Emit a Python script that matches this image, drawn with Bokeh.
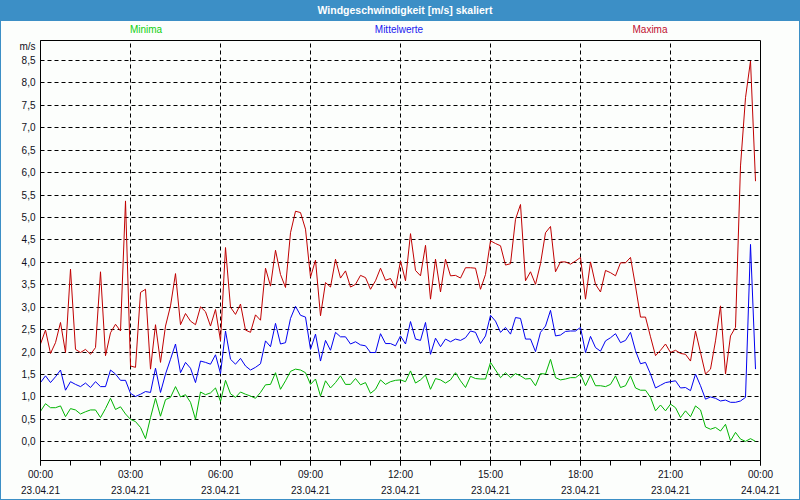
from bokeh.plotting import figure
from bokeh.models import Range1d, FixedTicker, CustomJSTickFormatter, Div
from bokeh.layouts import column
from bokeh.embed import file_html
from bokeh.resources import INLINE

# ---- data (10-minute values, 23.04.21 00:00 .. 23:50) ----
maxima = [
    2.18, 2.49, 1.97, 2.21, 2.66, 1.99, 3.85, 2.06, 1.99, 2.06,
    1.95, 2.10, 3.79, 1.92, 2.43, 2.62, 2.47, 5.37, 1.69, 1.66,
    3.33, 3.40, 1.62, 2.61, 1.77, 2.58, 3.03, 3.75, 2.61, 2.86,
    2.69, 2.61, 3.01, 2.90, 2.58, 2.95, 2.25, 4.33, 3.00, 2.84,
    3.07, 2.49, 2.44, 2.83, 2.71, 3.87, 3.47, 4.27, 3.73, 3.44,
    4.66, 5.14, 5.11, 4.74, 3.67, 4.05, 2.81, 3.55, 3.45, 4.07,
    3.65, 3.81, 3.45, 3.51, 3.71, 3.66, 3.40, 3.59, 3.87, 3.60,
    3.64, 3.42, 4.03, 3.59, 4.64, 3.82, 3.70, 4.38, 3.18, 4.07,
    3.34, 4.07, 3.70, 3.71, 3.65, 3.88, 3.88, 3.87, 3.40, 3.73,
    4.48, 4.42, 4.37, 3.94, 3.97, 4.96, 5.29, 3.59, 3.79, 3.51,
    3.97, 4.66, 4.80, 3.79, 4.01, 4.01, 3.96, 4.03, 4.11, 3.18,
    4.01, 3.51, 3.34, 3.82, 3.77, 3.70, 3.99, 3.99, 4.11, 3.47,
    2.78, 2.78, 2.34, 1.92, 2.04, 2.18, 1.99, 2.04, 1.97, 1.95,
    1.80, 2.47, 1.99, 1.51, 1.62, 2.25, 3.03, 1.51, 2.36, 2.55,
    6.15, 7.67, 8.49, 5.81,
]
mittelwerte = [
    1.32, 1.47, 1.32, 1.45, 1.60, 1.15, 1.34, 1.28, 1.23, 1.31,
    1.21, 1.34, 1.23, 1.23, 1.60, 1.51, 1.37, 1.37, 1.08, 1.01,
    1.06, 1.12, 1.10, 1.64, 1.10, 1.51, 1.84, 2.18, 1.54, 1.77,
    1.64, 1.32, 1.80, 1.77, 1.73, 1.94, 1.52, 2.47, 1.84, 1.73,
    1.86, 1.69, 1.60, 1.66, 1.74, 2.25, 2.12, 2.64, 2.18, 2.21,
    2.75, 3.02, 2.82, 2.78, 2.06, 2.40, 1.80, 2.26, 2.04, 2.44,
    2.34, 2.34, 2.18, 2.23, 2.16, 2.14, 1.99, 1.99, 2.41, 2.19,
    2.19, 2.14, 2.36, 2.18, 2.68, 2.29, 2.26, 2.66, 1.95, 2.31,
    2.12, 2.29, 2.23, 2.29, 2.26, 2.32, 2.47, 2.44, 2.19, 2.36,
    2.82, 2.69, 2.44, 2.55, 2.40, 2.77, 2.75, 2.29, 2.29, 2.01,
    2.44, 2.58, 2.93, 2.36, 2.38, 2.46, 2.47, 2.47, 2.55, 1.99,
    2.35, 2.10, 2.02, 2.25, 2.32, 2.41, 2.21, 2.26, 2.44, 2.03,
    1.74, 1.77, 1.51, 1.20, 1.26, 1.32, 1.34, 1.36, 1.20, 1.21,
    1.14, 1.51, 1.25, 0.95, 1.00, 0.97, 0.91, 0.93, 0.88, 0.88,
    0.91, 0.99, 4.40, 1.62,
]
minima = [
    0.68, 0.85, 0.76, 0.76, 0.80, 0.56, 0.74, 0.71, 0.62, 0.67,
    0.71, 0.71, 0.54, 0.74, 0.97, 0.72, 0.78, 0.62, 0.50, 0.45,
    0.32, 0.07, 0.54, 0.97, 0.57, 0.94, 0.99, 1.23, 1.00, 1.05,
    0.88, 0.50, 1.11, 1.05, 1.09, 1.20, 0.90, 1.37, 1.07, 0.99,
    1.11, 1.06, 1.02, 0.97, 1.10, 1.27, 1.28, 1.54, 1.17, 1.36,
    1.57, 1.62, 1.60, 1.54, 1.28, 1.40, 1.02, 1.36, 1.20, 1.32,
    1.47, 1.28, 1.28, 1.41, 1.27, 1.32, 1.08, 1.17, 1.38, 1.28,
    1.34, 1.37, 1.38, 1.34, 1.58, 1.31, 1.38, 1.49, 1.17, 1.41,
    1.38, 1.31, 1.38, 1.54, 1.36, 1.21, 1.46, 1.41, 1.40, 1.40,
    1.77, 1.60, 1.43, 1.54, 1.43, 1.52, 1.47, 1.40, 1.41, 1.25,
    1.52, 1.51, 1.84, 1.43, 1.38, 1.40, 1.43, 1.43, 1.51, 1.25,
    1.49, 1.25, 1.25, 1.23, 1.28, 1.47, 1.21, 1.25, 1.47, 1.20,
    1.15, 1.15, 0.99, 0.69, 0.82, 0.69, 0.84, 0.76, 0.54, 0.69,
    0.56, 0.80, 0.71, 0.33, 0.28, 0.32, 0.24, 0.39, 0.02, 0.21,
    0.06, 0.01, 0.07, 0.01,
]
interval_minutes = 10
hours = [i * interval_minutes / 60 for i in range(len(maxima))]

series_names = ["Minima", "Mittelwerte", "Maxima"]
series_colors = ["#00b400", "#0000f0", "#c00000"]
label_colors = ["#10d010", "#2020f0", "#c01030"]

x_ticks = [0, 3, 6, 9, 12, 15, 18, 21, 24]
x_tick_labels = ["00:00\n23.04.21", "03:00\n23.04.21", "06:00\n23.04.21",
                 "09:00\n23.04.21", "12:00\n23.04.21", "15:00\n23.04.21",
                 "18:00\n23.04.21", "21:00\n23.04.21", "00:00\n24.04.21"]
x_minor_ticks = list(range(0, 25))
y_ticks = [0.0, 0.5, 1.0, 1.5, 2.0, 2.5, 3.0, 3.5, 4.0, 4.5,
           5.0, 5.5, 6.0, 6.5, 7.0, 7.5, 8.0, 8.5]
y_tick_labels = ["0,0", "0,5", "1,0", "1,5", "2,0", "2,5", "3,0", "3,5", "4,0",
                 "4,5", "5,0", "5,5", "6,0", "6,5", "7,0", "7,5", "8,0", "8,5"]
unit_label = "m/s"
unit_label_pos = 8.82
title_text = "Windgeschwindigkeit [m/s] skaliert"

FONT = "Liberation Sans"
BG = "#fcfefc"
BAR = "#3c8fc6"
W = 798        # inner width (1px frame border on both sides)
LEFT = 39
RIGHT = 39
HEAD = 38      # title band + legend row
BAND = 21
FIG_H = 461

p = figure(width=W, height=FIG_H, output_backend="svg", toolbar_location=None,
           x_range=Range1d(0, 24), y_range=Range1d(-0.417, 8.946),
           min_border_left=LEFT, min_border_right=RIGHT, min_border_top=2,
           min_border_bottom=39, background_fill_color=BG, border_fill_color=BG,
           margin=0)
p.outline_line_color = "black"
p.outline_line_width = 1

for vals, col in zip([minima, mittelwerte, maxima], series_colors):
    p.line(hours, vals, line_color=col, line_width=1)

fmt_code = ("const i = pos.findIndex(v => Math.abs(v - tick) < 1e-6);"
            " return i >= 0 ? labels[i] : '';")

# x axis
p.xaxis.ticker = FixedTicker(ticks=x_ticks, minor_ticks=x_minor_ticks)
p.xaxis.formatter = CustomJSTickFormatter(args=dict(pos=x_ticks, labels=x_tick_labels),
                                          code=fmt_code)
p.xaxis.major_tick_out = 5
p.xaxis.major_tick_in = 0
p.xaxis.minor_tick_out = 5
p.xaxis.minor_tick_in = 0
p.xaxis.major_label_standoff = 3
p.xaxis.major_label_text_line_height = 1.5

# y axis (unit label shown as extra tick label at the top)
p.yaxis.ticker = FixedTicker(ticks=y_ticks + [unit_label_pos])
p.yaxis.formatter = CustomJSTickFormatter(
    args=dict(pos=y_ticks + [unit_label_pos], labels=y_tick_labels + [unit_label]),
    code=fmt_code)
p.yaxis.major_tick_out = 0
p.yaxis.major_tick_in = 0
p.yaxis.minor_tick_out = 0
p.yaxis.minor_tick_in = 0
p.yaxis.major_label_standoff = 5

for ax in (p.xaxis, p.yaxis):
    ax.axis_line_color = "black"
    ax.major_tick_line_color = "black"
    ax.minor_tick_line_color = "black"
    ax.major_label_text_font = FONT
    ax.major_label_text_font_size = "10px"
    ax.major_label_text_color = "#101020"

# grids
p.xgrid.ticker = FixedTicker(ticks=x_ticks[1:-1])
p.ygrid.ticker = FixedTicker(ticks=y_ticks)
for g in (p.xgrid, p.ygrid):
    g.grid_line_color = "black"
    g.grid_line_dash = "4 3"
    g.grid_line_width = 1

# header: title band and coloured series names
frame_w = W - LEFT - RIGHT
legend_frac = [0.147, 0.499, 0.847]
spans = "".join(
    f'<span style="position:absolute;left:{LEFT + f * frame_w:.0f}px;top:24px;'
    f'transform:translateX(-50%);white-space:nowrap;color:{c};'
    f'font-family:\'{FONT}\';font-size:10px;line-height:12px;">{n}</span>'
    for n, f, c in zip(series_names, legend_frac, label_colors))
header_html = (
    f'<div style="position:relative;width:{W}px;height:{HEAD}px;background:{BG};">'
    f'<div style="height:{BAND}px;background:{BAR};color:white;font-family:\'{FONT}\';'
    f'font-weight:bold;font-size:10.5px;text-align:center;line-height:{BAND}px;'
    f'padding-left:10px;box-sizing:border-box;">'
    f'{title_text}</div>{spans}</div>')
header = Div(text=header_html, width=W, height=HEAD, margin=0)

layout = column(header, p, spacing=0, margin=0,
                styles={"border-left": f"1px solid {BAR}",
                        "border-right": f"1px solid {BAR}",
                        "border-bottom": f"1px solid {BAR}",
                        "background-color": BG})

open("out.html", "w").write(file_html(layout, INLINE))
